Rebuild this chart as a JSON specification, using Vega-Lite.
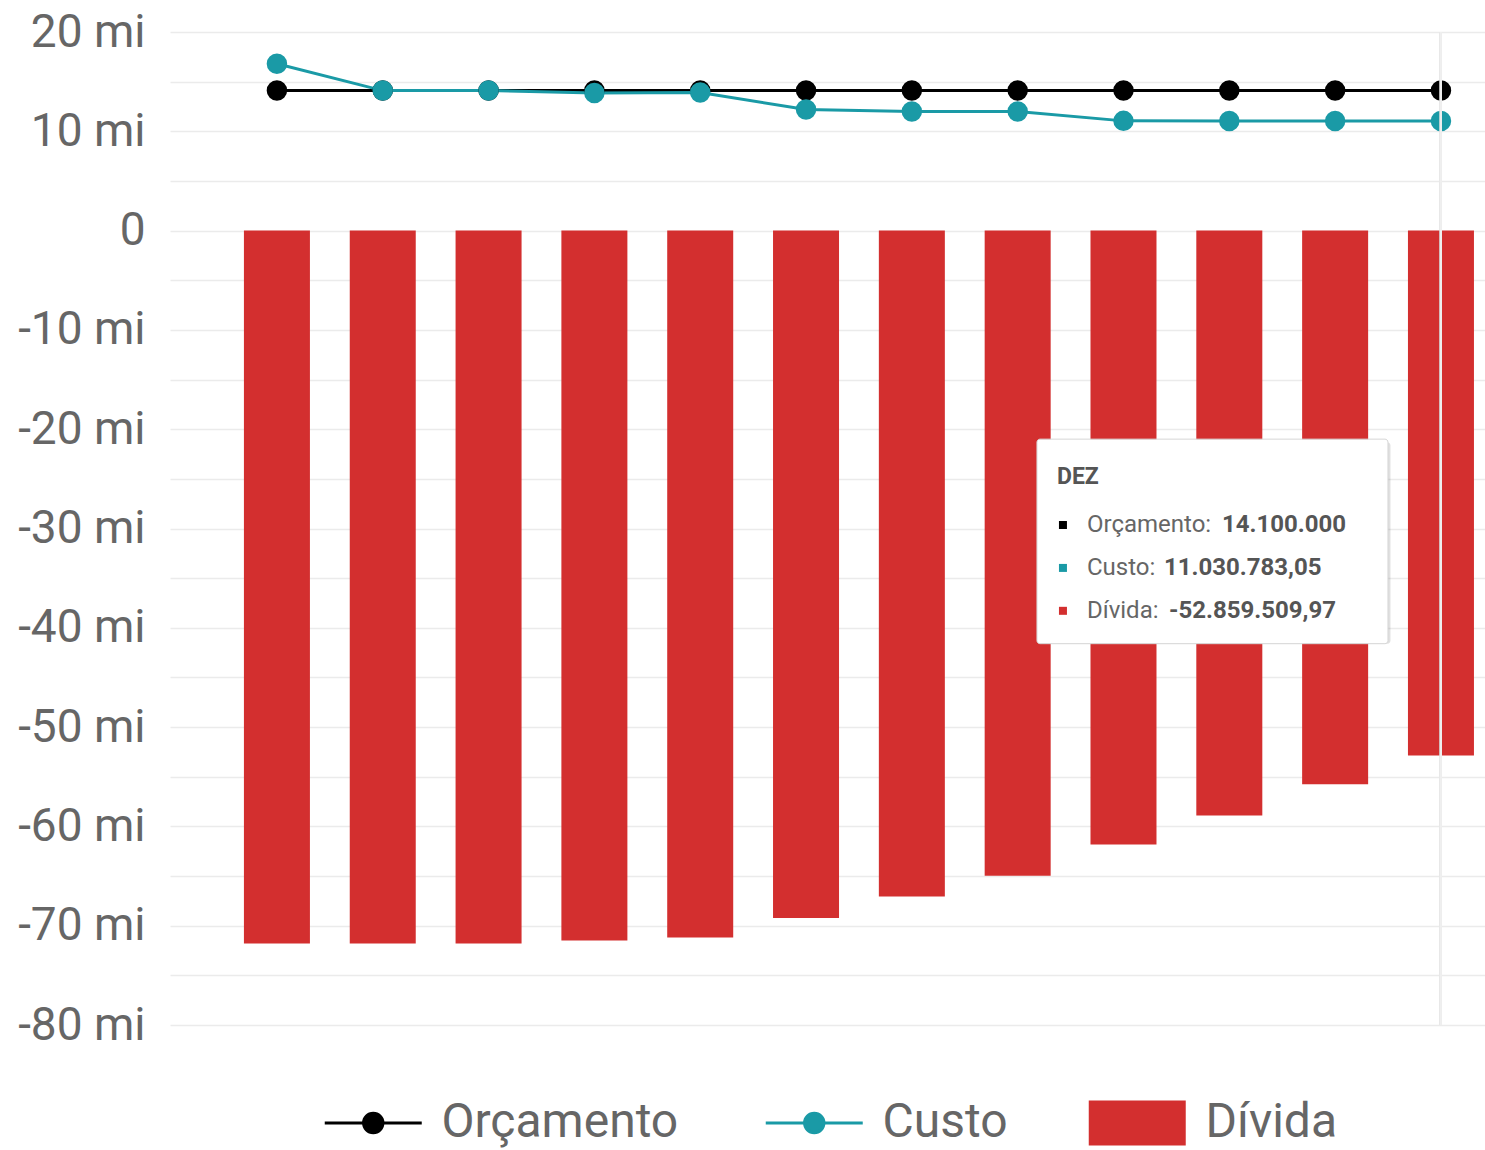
{
  "$schema": "https://vega.github.io/schema/vega-lite/v6.json",
  "autosize": "none",
  "width": 1315,
  "height": 993,
  "padding": {"left": 170, "top": 32, "right": 0, "bottom": 125},
  "background": "white",
  "config": {
    "view": {"stroke": null},
    "font": "Roboto",
    "locale": {"number": {"decimal": ",", "thousands": ".", "grouping": [3], "currency": ["R$", ""], "minus": "-"}}
  },
  "data": {"values": [
    {"mes": "JAN", "serie": "Orçamento", "valor": 14100000},
    {"mes": "FEV", "serie": "Orçamento", "valor": 14100000},
    {"mes": "MAR", "serie": "Orçamento", "valor": 14100000},
    {"mes": "ABR", "serie": "Orçamento", "valor": 14100000},
    {"mes": "MAI", "serie": "Orçamento", "valor": 14100000},
    {"mes": "JUN", "serie": "Orçamento", "valor": 14100000},
    {"mes": "JUL", "serie": "Orçamento", "valor": 14100000},
    {"mes": "AGO", "serie": "Orçamento", "valor": 14100000},
    {"mes": "SET", "serie": "Orçamento", "valor": 14100000},
    {"mes": "OUT", "serie": "Orçamento", "valor": 14100000},
    {"mes": "NOV", "serie": "Orçamento", "valor": 14100000},
    {"mes": "DEZ", "serie": "Orçamento", "valor": 14100000},
    {"mes": "JAN", "serie": "Custo", "valor": 16800000},
    {"mes": "FEV", "serie": "Custo", "valor": 14100000},
    {"mes": "MAR", "serie": "Custo", "valor": 14100000},
    {"mes": "ABR", "serie": "Custo", "valor": 13850000},
    {"mes": "MAI", "serie": "Custo", "valor": 13900000},
    {"mes": "JUN", "serie": "Custo", "valor": 12200000},
    {"mes": "JUL", "serie": "Custo", "valor": 12000000},
    {"mes": "AGO", "serie": "Custo", "valor": 12000000},
    {"mes": "SET", "serie": "Custo", "valor": 11050000},
    {"mes": "OUT", "serie": "Custo", "valor": 11040000},
    {"mes": "NOV", "serie": "Custo", "valor": 11040000},
    {"mes": "DEZ", "serie": "Custo", "valor": 11030783.05},
    {"mes": "JAN", "serie": "Dívida", "valor": -71800000},
    {"mes": "FEV", "serie": "Dívida", "valor": -71800000},
    {"mes": "MAR", "serie": "Dívida", "valor": -71800000},
    {"mes": "ABR", "serie": "Dívida", "valor": -71500000},
    {"mes": "MAI", "serie": "Dívida", "valor": -71200000},
    {"mes": "JUN", "serie": "Dívida", "valor": -69220000},
    {"mes": "JUL", "serie": "Dívida", "valor": -67070000},
    {"mes": "AGO", "serie": "Dívida", "valor": -64960000},
    {"mes": "SET", "serie": "Dívida", "valor": -61830000},
    {"mes": "OUT", "serie": "Dívida", "valor": -58890000},
    {"mes": "NOV", "serie": "Dívida", "valor": -55760000},
    {"mes": "DEZ", "serie": "Dívida", "valor": -52859509.97}
  ]},
  "encoding": {
    "x": {
      "field": "mes", "type": "nominal", "sort": null, "axis": null,
      "scale": {"domain": ["JAN","FEV","MAR","ABR","MAI","JUN","JUL","AGO","SET","OUT","NOV","DEZ"], "paddingInner": 0.3763, "paddingOuter": 0.4015, "align": 0.87}
    }
  },
  "layer": [
    {
      "transform": [{"filter": "datum.serie === 'Dívida'"}],
      "mark": {"type": "bar", "cornerRadius": 0},
      "encoding": {
        "y": {
          "field": "valor", "type": "quantitative",
          "scale": {"domain": [-80000000, 20000000], "nice": false, "zero": false},
          "axis": {
            "title": null,
            "values": [-80000000,-75000000,-70000000,-65000000,-60000000,-55000000,-50000000,-45000000,-40000000,-35000000,-30000000,-25000000,-20000000,-15000000,-10000000,-5000000,0,5000000,10000000,15000000,20000000],
            "labelExpr": "datum.value % 10000000 !== 0 ? '' : (datum.value === 0 ? '0' : (datum.value / 1000000) + ' mi')",
            "labelFont": "Roboto", "labelFontSize": 46, "labelColor": "#666666",
            "labelPadding": 25, "ticks": false, "domain": false,
            "grid": true, "gridColor": "#ebebeb", "gridWidth": 1.5,
            "labelBaseline": "middle", "labelFlush": false, "labelOverlap": false
          }
        },
        "color": {
          "field": "serie", "type": "nominal",
          "scale": {"domain": ["Orçamento", "Custo", "Dívida"], "range": ["#000000", "#1a9aa6", "#d32f2f"]},
          "legend": {
            "title": null, "orient": "none", "legendX": 155, "legendY": 1067, "direction": "horizontal",
            "padding": 0,
            "labelFont": "Roboto", "labelFontSize": 48, "labelColor": "#666666", "labelLimit": 0,
            "symbolSize": 2352, "labelOffset": 68.5, "columnPadding": 80,
            "encode": {
              "symbols": {"update": {
                "shape": {"signal": "datum.value === 'Dívida' ? 'M-1,-0.93L3,-0.93L3,0.93L-1,0.93Z' : 'M-1,0L3,0M0.6,0A0.4,0.4,0,1,0,1.4,0A0.4,0.4,0,1,0,0.6,0Z'"},
                "fill": {"signal": "scale('color', datum.value)"},
                "stroke": {"signal": "scale('color', datum.value)"},
                "strokeWidth": {"signal": "datum.value === 'Dívida' ? 0 : 3"},
                "opacity": {"value": 1},
                "fillOpacity": {"value": 1}
              }}
            }
          }
        }
      }
    },
    {
      "mark": {"type": "rule", "color": "#666666", "strokeWidth": 1.5},
      "encoding": {"y": {"datum": 0}}
    },
    {
      "transform": [{"filter": "datum.serie !== 'Dívida'"}],
      "mark": {"type": "line", "strokeWidth": 3, "point": {"filled": true, "size": 420, "opacity": 1}},
      "encoding": {
        "y": {"field": "valor", "type": "quantitative"},
        "color": {"field": "serie", "type": "nominal"}
      }
    },
    {
      "mark": {"type": "rule", "color": "#eeeeee", "strokeWidth": 2, "opacity": 0.9},
      "encoding": {"x": {"datum": "DEZ"}}
    },
    {
      "transform": [{"filter": "datum.mes === 'DEZ' && datum.serie === 'Orçamento'"}],
      "layer": [
        {
          "mark": {"type": "bar", "width": 351, "xOffset": -226, "yOffset": 3, "color": "#000000", "opacity": 0.12, "cornerRadius": 3},
          "encoding": {"y": {"datum": -21000000}, "y2": {"datum": -41600000}}
        },
        {
          "mark": {"type": "bar", "width": 351, "xOffset": -228.5, "color": "#ffffff", "stroke": "#d6d6d6", "strokeWidth": 1, "cornerRadius": 3, "opacity": 1},
          "encoding": {"y": {"datum": -21000000}, "y2": {"datum": -41600000}}
        },
        {
          "mark": {"type": "text", "align": "left", "baseline": "middle", "dx": -384, "font": "Roboto", "fontSize": 23, "fontWeight": "bold", "color": "#555555"},
          "encoding": {"y": {"datum": -24820000}, "text": {"field": "mes"}}
        }
      ]
    },
    {
      "transform": [
        {"filter": "datum.mes === 'DEZ' && datum.serie === 'Orçamento'"},
        {"calculate": "datum.serie + ':'", "as": "rotulo"}
      ],
      "layer": [
        {
          "mark": {"type": "point", "shape": "square", "filled": true, "size": 64, "xOffset": -378, "opacity": 1},
          "encoding": {"y": {"datum": -29650000}, "color": {"field": "serie", "type": "nominal"}}
        },
        {
          "mark": {"type": "text", "align": "left", "baseline": "middle", "dx": -354, "font": "Roboto", "fontSize": 24, "color": "#666666"},
          "encoding": {"y": {"datum": -29650000}, "text": {"field": "rotulo"}}
        },
        {
          "mark": {"type": "text", "align": "left", "baseline": "middle", "dx": -219, "font": "Roboto", "fontSize": 24, "fontWeight": "bold", "color": "#555555"},
          "encoding": {"y": {"datum": -29650000}, "text": {"field": "valor", "type": "quantitative", "format": ",.2~f"}}
        }
      ]
    },
    {
      "transform": [
        {"filter": "datum.mes === 'DEZ' && datum.serie === 'Custo'"},
        {"calculate": "datum.serie + ':'", "as": "rotulo"}
      ],
      "layer": [
        {
          "mark": {"type": "point", "shape": "square", "filled": true, "size": 64, "xOffset": -378, "opacity": 1},
          "encoding": {"y": {"datum": -33970000}, "color": {"field": "serie", "type": "nominal"}}
        },
        {
          "mark": {"type": "text", "align": "left", "baseline": "middle", "dx": -354, "font": "Roboto", "fontSize": 24, "color": "#666666"},
          "encoding": {"y": {"datum": -33970000}, "text": {"field": "rotulo"}}
        },
        {
          "mark": {"type": "text", "align": "left", "baseline": "middle", "dx": -277, "font": "Roboto", "fontSize": 24, "fontWeight": "bold", "color": "#555555"},
          "encoding": {"y": {"datum": -33970000}, "text": {"field": "valor", "type": "quantitative", "format": ",.2~f"}}
        }
      ]
    },
    {
      "transform": [
        {"filter": "datum.mes === 'DEZ' && datum.serie === 'Dívida'"},
        {"calculate": "datum.serie + ':'", "as": "rotulo"}
      ],
      "layer": [
        {
          "mark": {"type": "point", "shape": "square", "filled": true, "size": 64, "xOffset": -378, "opacity": 1},
          "encoding": {"y": {"datum": -38290000}, "color": {"field": "serie", "type": "nominal"}}
        },
        {
          "mark": {"type": "text", "align": "left", "baseline": "middle", "dx": -354, "font": "Roboto", "fontSize": 24, "color": "#666666"},
          "encoding": {"y": {"datum": -38290000}, "text": {"field": "rotulo"}}
        },
        {
          "mark": {"type": "text", "align": "left", "baseline": "middle", "dx": -272, "font": "Roboto", "fontSize": 24, "fontWeight": "bold", "color": "#555555"},
          "encoding": {"y": {"datum": -38290000}, "text": {"field": "valor", "type": "quantitative", "format": ",.2~f"}}
        }
      ]
    }
  ]
}
